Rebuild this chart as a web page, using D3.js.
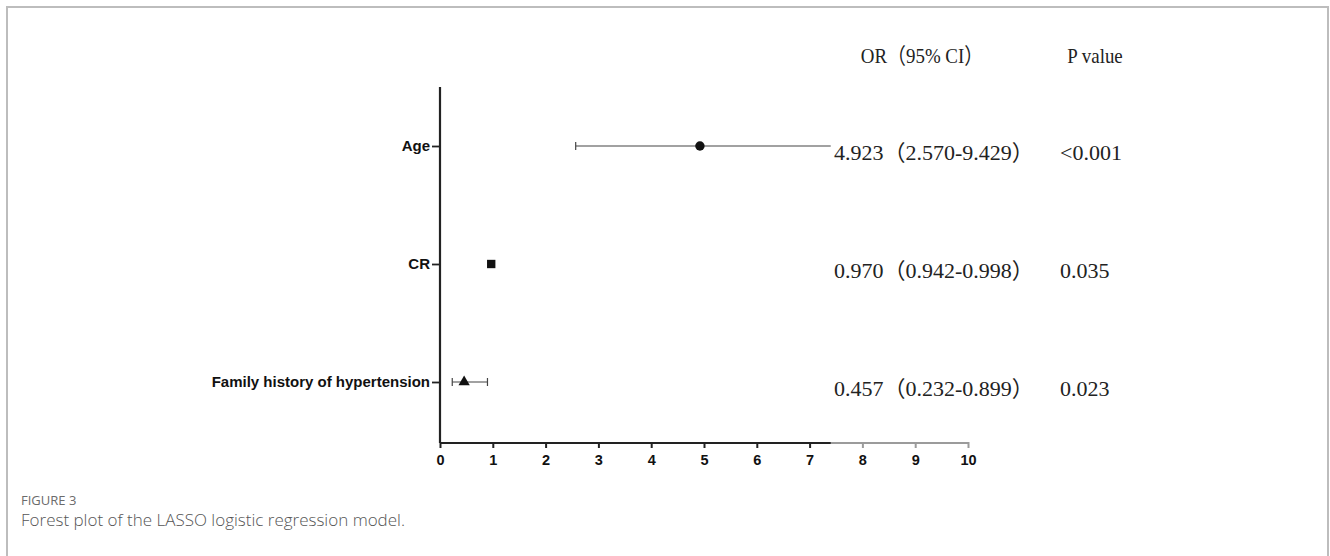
<!DOCTYPE html>
<html lang="en">
    <head>
        <meta charset="UTF-8">
        <title>Forest plot</title>
        <script src="https://cdn.jsdelivr.net/npm/d3@7"></script>
        <style type="text/css">
            body {margin: 0; background: #fff; overflow: hidden;}
            .tick text {font-family: "Liberation Sans", Arial, sans-serif; font-weight: bold; fill: #111;}
        </style>
    </head>
    <body>
        <svg id="chart" width="1330" height="556"></svg>
        <script>
            var variables = ['Age', 'CR', 'Family history of hypertension'];
            var orValues = [4.923, 0.970, 0.457];
            var lowerCI = [2.570, 0.942, 0.232];
            var upperCI = [9.429, 0.998, 0.899];
            var pValues = ['<0.001', '0.035', '0.023'];
            var symbols = [d3.symbolCircle, d3.symbolSquare, d3.symbolTriangle];
            var xTicks = [0, 1, 2, 3, 4, 5, 6, 7, 8, 9, 10];

            var svg = d3.select('#chart');

            // page frame
            svg.append('path')
                .attr('d', 'M7,556 V7 H1328 V556')
                .attr('fill', 'none')
                .attr('stroke', '#bdbdbd')
                .attr('stroke-width', 2);

            var x = d3.scaleLinear().domain([0, 10]).range([440, 968]);
            var y = d3.scalePoint().domain(variables).range([146, 382]);
            var axisY = 443;

            var rows = variables.map(function(v, i) {
                return {name: v, or: orValues[i], lo: lowerCI[i], hi: upperCI[i], p: pValues[i], sym: symbols[i]};
            });

            // CI lines
            var g = svg.append('g');
            g.selectAll('line.ci')
                .data(rows)
                .enter()
                .append('line')
                .attr('class', 'ci')
                .attr('x1', function(d) { return x(d.lo); })
                .attr('x2', function(d) { return x(d.hi); })
                .attr('y1', function(d) { return y(d.name); })
                .attr('y2', function(d) { return y(d.name); })
                .attr('stroke', '#444')
                .attr('stroke-width', 1.2);
            ['lo', 'hi'].forEach(function(k) {
                g.selectAll('line.cap-' + k)
                    .data(rows)
                    .enter()
                    .append('line')
                    .attr('x1', function(d) { return x(d[k]); })
                    .attr('x2', function(d) { return x(d[k]); })
                    .attr('y1', function(d) { return y(d.name) - 4; })
                    .attr('y2', function(d) { return y(d.name) + 4; })
                    .attr('stroke', '#444')
                    .attr('stroke-width', 1.2);
            });
            g.selectAll('path.pt')
                .data(rows)
                .enter()
                .append('path')
                .attr('transform', function(d) { return 'translate(' + x(d.or) + ',' + y(d.name) + ')'; })
                .attr('d', function(d) { return d3.symbol().type(d.sym).size(d.sym === d3.symbolTriangle ? 55 : 70)(); })
                .attr('fill', '#111');

            // x axis
            var xAxis = svg.append('g')
                .attr('transform', 'translate(0,' + axisY + ')')
                .call(d3.axisBottom(x).tickValues(xTicks).tickSize(6).tickPadding(4).tickFormat(d3.format('d')));
            xAxis.select('.domain').attr('stroke', '#222').attr('stroke-width', 2.2).attr('d', 'M' + x(0) + ',0H' + x(10));
            xAxis.selectAll('.tick line').attr('stroke', '#222').attr('stroke-width', 2).attr('y1', -1).attr('y2', 5);
            xAxis.selectAll('.tick text').attr('font-size', 14.5).attr('dy', '0.85em');

            // y axis
            var yAxis = svg.append('g')
                .attr('transform', 'translate(' + x(0) + ',0)')
                .call(d3.axisLeft(y).tickSize(8).tickPadding(2));
            yAxis.select('.domain').attr('stroke', '#222').attr('stroke-width', 2.2).attr('d', 'M0,87V' + axisY);
            yAxis.selectAll('.tick line').attr('stroke', '#222').attr('stroke-width', 1.8);
            yAxis.selectAll('.tick text').attr('font-size', 15);

            // text panel on top of the plot (hides the right part)
            var panelX = x(7.4);
            svg.append('rect')
                .attr('x', panelX).attr('y', 80)
                .attr('width', 1200 - panelX).attr('height', axisY - 82)
                .attr('fill', '#fff');
            svg.append('rect')
                .attr('x', panelX).attr('y', axisY - 2)
                .attr('width', 1200 - panelX).attr('height', 9)
                .attr('fill', '#fff').attr('fill-opacity', 0.55);

            var serif = '"Liberation Serif", "Times New Roman", "Noto Sans CJK SC", serif';
            var hdr = svg.append('g').attr('font-family', serif).attr('font-size', 22).attr('fill', '#222');
            hdr.append('text')
                .attr('transform', 'translate(922,63) scale(0.86,1)')
                .attr('text-anchor', 'middle')
                .text('OR（95% CI）');
            hdr.append('text')
                .attr('transform', 'translate(1095,63) scale(0.86,1)')
                .attr('text-anchor', 'middle')
                .text('P value');

            var cols = svg.append('g').attr('font-family', serif).attr('font-size', 22).attr('fill', '#222');
            cols.selectAll('text.or')
                .data(rows)
                .enter()
                .append('text')
                .attr('x', 834)
                .attr('y', function(d) { return y(d.name) + 14; })
                .text(function(d) { return d.or.toFixed(3) + '（' + d.lo.toFixed(3) + '-' + d.hi.toFixed(3) + '）'; });
            cols.selectAll('text.p')
                .data(rows)
                .enter()
                .append('text')
                .attr('x', 1060)
                .attr('y', function(d) { return y(d.name) + 14; })
                .text(function(d) { return d.p; });

            // caption
            svg.append('text')
                .attr('x', 21).attr('y', 505)
                .attr('font-family', '"Open Sans", sans-serif').attr('font-size', 13)
                .attr('fill', '#6b6b6b')
                .text('FIGURE 3');
            svg.append('text')
                .attr('x', 21).attr('y', 526)
                .attr('font-family', '"Open Sans", sans-serif').attr('font-size', 17).attr('font-weight', 300)
                .attr('fill', '#555')
                .text('Forest plot of the LASSO logistic regression model.');
        </script>
    </body>
</html>
